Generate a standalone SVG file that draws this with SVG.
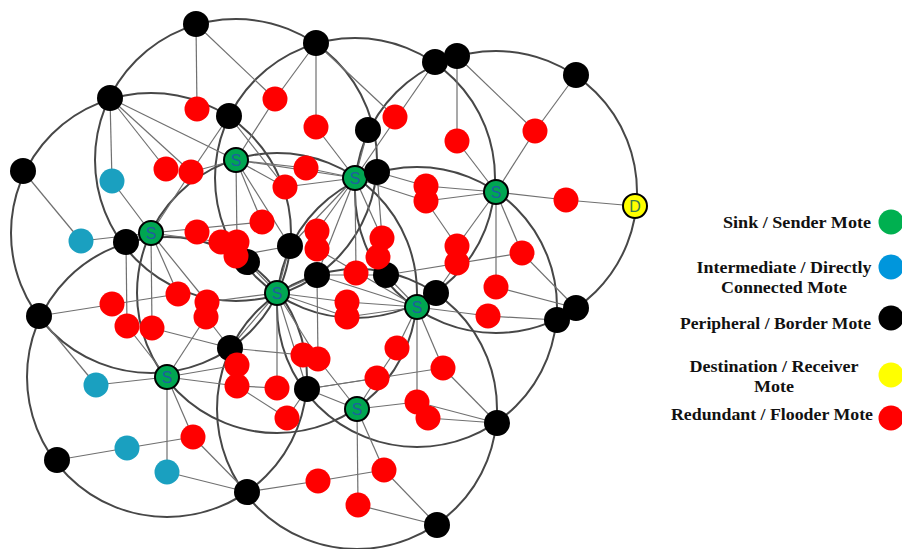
<svg xmlns="http://www.w3.org/2000/svg" width="902" height="549" viewBox="0 0 902 549">
<style>
.rng{fill:none;stroke:#474747;stroke-width:2}
.e{stroke:#707070;stroke-width:1.2;fill:none}
.r{fill:#ff0000}
.k{fill:#000}
.c{fill:#1aa0c0}
.s{fill:#00a651;stroke:#000;stroke-width:2}
.sl{font-family:"Liberation Sans",Arial,sans-serif;font-size:16px;fill:#1f5f9f;text-anchor:middle}
.lg{font-family:"Liberation Serif","Times New Roman",serif;font-weight:bold;font-size:17px;fill:#111}
</style>
<rect width="902" height="549" fill="#fff"/>
<g id="ranges">
<circle class="rng" cx="236" cy="160" r="141"/>
<circle class="rng" cx="151" cy="233" r="140"/>
<circle class="rng" cx="355" cy="178" r="140"/>
<circle class="rng" cx="496" cy="192" r="141"/>
<circle class="rng" cx="277" cy="293" r="140"/>
<circle class="rng" cx="417" cy="307" r="140"/>
<circle class="rng" cx="167" cy="377" r="140"/>
<circle class="rng" cx="357" cy="409" r="140"/>
</g>
<g id="connectors">
<line class="e" x1="196" y1="24" x2="197" y2="109"/>
<line class="e" x1="196" y1="24" x2="275" y2="99"/>
<line class="e" x1="316" y1="43" x2="316" y2="127"/>
<line class="e" x1="316" y1="43" x2="275" y2="99"/>
<line class="e" x1="316" y1="43" x2="395" y2="117"/>
<line class="e" x1="110" y1="98" x2="112" y2="181"/>
<line class="e" x1="110" y1="98" x2="166" y2="169"/>
<line class="e" x1="110" y1="98" x2="191" y2="172"/>
<line class="e" x1="110" y1="98" x2="236" y2="160"/>
<line class="e" x1="229" y1="116" x2="191" y2="172"/>
<line class="e" x1="229" y1="116" x2="285" y2="187"/>
<line class="e" x1="275" y1="99" x2="236" y2="160"/>
<line class="e" x1="23" y1="171" x2="81" y2="241"/>
<line class="e" x1="81" y1="241" x2="151" y2="233"/>
<line class="e" x1="112" y1="181" x2="151" y2="233"/>
<line class="e" x1="236" y1="160" x2="191" y2="172"/>
<line class="e" x1="236" y1="160" x2="306" y2="168"/>
<line class="e" x1="236" y1="160" x2="285" y2="187"/>
<line class="e" x1="236" y1="160" x2="262" y2="222"/>
<line class="e" x1="236" y1="160" x2="237" y2="242"/>
<line class="e" x1="236" y1="160" x2="355" y2="178"/>
<line class="e" x1="236" y1="160" x2="290" y2="246"/>
<line class="e" x1="151" y1="233" x2="191" y2="172"/>
<line class="e" x1="151" y1="233" x2="262" y2="222"/>
<line class="e" x1="151" y1="233" x2="221" y2="242"/>
<line class="e" x1="151" y1="233" x2="178" y2="294"/>
<line class="e" x1="151" y1="233" x2="207" y2="302"/>
<line class="e" x1="151" y1="233" x2="152" y2="328"/>
<line class="e" x1="126" y1="242" x2="127" y2="326"/>
<line class="e" x1="39" y1="316" x2="178" y2="294"/>
<line class="e" x1="39" y1="316" x2="96" y2="385"/>
<line class="e" x1="96" y1="385" x2="167" y2="377"/>
<line class="e" x1="57" y1="460" x2="127" y2="448"/>
<line class="e" x1="127" y1="448" x2="193" y2="437"/>
<line class="e" x1="167" y1="472" x2="247" y2="492"/>
<line class="e" x1="167" y1="377" x2="167" y2="472"/>
<line class="e" x1="167" y1="377" x2="193" y2="437"/>
<line class="e" x1="193" y1="437" x2="247" y2="492"/>
<line class="e" x1="247" y1="492" x2="318" y2="481"/>
<line class="e" x1="167" y1="377" x2="206" y2="317"/>
<line class="e" x1="167" y1="377" x2="237" y2="365"/>
<line class="e" x1="167" y1="377" x2="237" y2="386"/>
<line class="e" x1="127" y1="326" x2="167" y2="377"/>
<line class="e" x1="152" y1="328" x2="230" y2="348"/>
<line class="e" x1="207" y1="302" x2="277" y2="293"/>
<line class="e" x1="206" y1="317" x2="230" y2="348"/>
<line class="e" x1="277" y1="293" x2="230" y2="348"/>
<line class="e" x1="277" y1="293" x2="277" y2="388"/>
<line class="e" x1="277" y1="293" x2="307" y2="389"/>
<line class="e" x1="277" y1="293" x2="318" y2="359"/>
<line class="e" x1="277" y1="293" x2="347" y2="302"/>
<line class="e" x1="277" y1="293" x2="347" y2="317"/>
<line class="e" x1="277" y1="293" x2="247" y2="262"/>
<line class="e" x1="277" y1="293" x2="290" y2="246"/>
<line class="e" x1="277" y1="293" x2="317" y2="275"/>
<line class="e" x1="237" y1="386" x2="277" y2="388"/>
<line class="e" x1="237" y1="386" x2="287" y2="418"/>
<line class="e" x1="230" y1="348" x2="303" y2="355"/>
<line class="e" x1="317" y1="275" x2="318" y2="359"/>
<line class="e" x1="307" y1="389" x2="357" y2="409"/>
<line class="e" x1="307" y1="389" x2="377" y2="378"/>
<line class="e" x1="307" y1="389" x2="287" y2="418"/>
<line class="e" x1="307" y1="389" x2="443" y2="368"/>
<line class="e" x1="357" y1="409" x2="417" y2="402"/>
<line class="e" x1="357" y1="409" x2="358" y2="505"/>
<line class="e" x1="357" y1="409" x2="384" y2="470"/>
<line class="e" x1="384" y1="470" x2="318" y2="481"/>
<line class="e" x1="384" y1="470" x2="437" y2="525"/>
<line class="e" x1="358" y1="505" x2="437" y2="525"/>
<line class="e" x1="357" y1="409" x2="377" y2="378"/>
<line class="e" x1="357" y1="409" x2="318" y2="359"/>
<line class="e" x1="417" y1="307" x2="436" y2="293"/>
<line class="e" x1="417" y1="307" x2="488" y2="316"/>
<line class="e" x1="488" y1="316" x2="557" y2="320"/>
<line class="e" x1="417" y1="307" x2="417" y2="402"/>
<line class="e" x1="417" y1="307" x2="443" y2="368"/>
<line class="e" x1="417" y1="307" x2="397" y2="348"/>
<line class="e" x1="397" y1="348" x2="377" y2="378"/>
<line class="e" x1="443" y1="368" x2="497" y2="423"/>
<line class="e" x1="417" y1="402" x2="497" y2="423"/>
<line class="e" x1="428" y1="418" x2="497" y2="423"/>
<line class="e" x1="496" y1="287" x2="576" y2="308"/>
<line class="e" x1="522" y1="253" x2="576" y2="308"/>
<line class="e" x1="496" y1="192" x2="457" y2="141"/>
<line class="e" x1="496" y1="192" x2="535" y2="131"/>
<line class="e" x1="496" y1="192" x2="426" y2="186"/>
<line class="e" x1="496" y1="192" x2="426" y2="201"/>
<line class="e" x1="496" y1="192" x2="566" y2="200"/>
<line class="e" x1="566" y1="200" x2="635" y2="206"/>
<line class="e" x1="496" y1="192" x2="457" y2="246"/>
<line class="e" x1="496" y1="192" x2="522" y2="253"/>
<line class="e" x1="496" y1="192" x2="496" y2="287"/>
<line class="e" x1="377" y1="172" x2="426" y2="186"/>
<line class="e" x1="457" y1="56" x2="457" y2="141"/>
<line class="e" x1="457" y1="56" x2="535" y2="131"/>
<line class="e" x1="576" y1="75" x2="535" y2="131"/>
<line class="e" x1="435" y1="62" x2="355" y2="178"/>
<line class="e" x1="355" y1="178" x2="316" y2="127"/>
<line class="e" x1="355" y1="178" x2="306" y2="168"/>
<line class="e" x1="355" y1="178" x2="285" y2="187"/>
<line class="e" x1="355" y1="178" x2="426" y2="201"/>
<line class="e" x1="355" y1="178" x2="317" y2="231"/>
<line class="e" x1="355" y1="178" x2="382" y2="238"/>
<line class="e" x1="355" y1="178" x2="356" y2="273"/>
<line class="e" x1="355" y1="178" x2="290" y2="246"/>
<line class="e" x1="355" y1="178" x2="317" y2="275"/>
<line class="e" x1="368" y1="130" x2="355" y2="178"/>
<line class="e" x1="377" y1="172" x2="382" y2="238"/>
<line class="e" x1="426" y1="201" x2="457" y2="246"/>
<line class="e" x1="317" y1="275" x2="386" y2="275"/>
<line class="e" x1="317" y1="275" x2="417" y2="307"/>
<line class="e" x1="386" y1="275" x2="417" y2="307"/>
<line class="e" x1="386" y1="275" x2="522" y2="253"/>
<line class="e" x1="317" y1="249" x2="417" y2="307"/>
<line class="e" x1="347" y1="302" x2="417" y2="307"/>
<line class="e" x1="347" y1="317" x2="417" y2="307"/>
<line class="e" x1="436" y1="293" x2="457" y2="263"/>
<line class="e" x1="290" y1="246" x2="236" y2="256"/>
</g>
<g id="n-B1"><circle class="k" cx="196" cy="24" r="13"/></g>
<g id="n-B2"><circle class="k" cx="316" cy="43" r="13"/></g>
<g id="n-B3"><circle class="k" cx="110" cy="98" r="13"/></g>
<g id="n-B4"><circle class="k" cx="229" cy="116" r="13"/></g>
<g id="n-B5"><circle class="k" cx="435" cy="62" r="13"/></g>
<g id="n-B6"><circle class="k" cx="457" cy="56" r="13"/></g>
<g id="n-B7"><circle class="k" cx="576" cy="75" r="13"/></g>
<g id="n-B8"><circle class="k" cx="368" cy="130" r="13"/></g>
<g id="n-B10"><circle class="k" cx="23" cy="171" r="13"/></g>
<g id="n-B11"><circle class="k" cx="126" cy="242" r="13"/></g>
<g id="n-B12"><circle class="k" cx="290" cy="246" r="13"/></g>
<g id="n-B13"><circle class="k" cx="247" cy="262" r="13"/></g>
<g id="n-B14"><circle class="k" cx="317" cy="275" r="13"/></g>
<g id="n-B15"><circle class="k" cx="386" cy="275" r="13"/></g>
<g id="n-B17"><circle class="k" cx="39" cy="316" r="13"/></g>
<g id="n-B18"><circle class="k" cx="230" cy="348" r="13"/></g>
<g id="n-B19"><circle class="k" cx="307" cy="389" r="13"/></g>
<g id="n-B20"><circle class="k" cx="57" cy="460" r="13"/></g>
<g id="n-B21"><circle class="k" cx="247" cy="492" r="13"/></g>
<g id="n-B22"><circle class="k" cx="576" cy="308" r="13"/></g>
<g id="n-B23"><circle class="k" cx="557" cy="320" r="13"/></g>
<g id="n-B24"><circle class="k" cx="497" cy="423" r="13"/></g>
<g id="n-B25"><circle class="k" cx="437" cy="525" r="13"/></g>
<g id="n-R1"><circle class="r" cx="197" cy="109" r="12.5"/></g>
<g id="n-R2"><circle class="r" cx="275" cy="99" r="12.5"/></g>
<g id="n-R3"><circle class="r" cx="316" cy="127" r="12.5"/></g>
<g id="n-R4"><circle class="r" cx="395" cy="117" r="12.5"/></g>
<g id="n-R5"><circle class="r" cx="457" cy="141" r="12.5"/></g>
<g id="n-R6"><circle class="r" cx="535" cy="131" r="12.5"/></g>
<g id="n-R7"><circle class="r" cx="166" cy="169" r="12.5"/></g>
<g id="n-R8"><circle class="r" cx="191" cy="172" r="12.5"/></g>
<g id="n-R9"><circle class="r" cx="306" cy="168" r="12.5"/></g>
<g id="n-R10"><circle class="r" cx="285" cy="187" r="12.5"/></g>
<g id="n-R11"><circle class="r" cx="426" cy="186" r="12.5"/></g>
<g id="n-R12"><circle class="r" cx="426" cy="201" r="12.5"/></g>
<g id="n-R13"><circle class="r" cx="566" cy="200" r="12.5"/></g>
<g id="n-R14"><circle class="r" cx="262" cy="222" r="12.5"/></g>
<g id="n-R15"><circle class="r" cx="197" cy="232" r="12.5"/></g>
<g id="n-R16"><circle class="r" cx="221" cy="242" r="12.5"/></g>
<g id="n-R17"><circle class="r" cx="237" cy="242" r="12.5"/></g>
<g id="n-R18"><circle class="r" cx="236" cy="256" r="12.5"/></g>
<g id="n-R19"><circle class="r" cx="317" cy="231" r="12.5"/></g>
<g id="n-R20"><circle class="r" cx="317" cy="249" r="12.5"/></g>
<g id="n-R21"><circle class="r" cx="382" cy="238" r="12.5"/></g>
<g id="n-R22"><circle class="r" cx="378" cy="257" r="12.5"/></g>
<g id="n-R23"><circle class="r" cx="457" cy="246" r="12.5"/></g>
<g id="n-R24"><circle class="r" cx="457" cy="263" r="12.5"/></g>
<g id="n-R25"><circle class="r" cx="522" cy="253" r="12.5"/></g>
<g id="n-R26"><circle class="r" cx="356" cy="273" r="12.5"/></g>
<g id="n-R27"><circle class="r" cx="496" cy="287" r="12.5"/></g>
<g id="n-R28"><circle class="r" cx="488" cy="316" r="12.5"/></g>
<g id="n-R29"><circle class="r" cx="178" cy="294" r="12.5"/></g>
<g id="n-R30"><circle class="r" cx="207" cy="302" r="12.5"/></g>
<g id="n-R31"><circle class="r" cx="206" cy="317" r="12.5"/></g>
<g id="n-R32"><circle class="r" cx="112" cy="304" r="12.5"/></g>
<g id="n-R33"><circle class="r" cx="127" cy="326" r="12.5"/></g>
<g id="n-R34"><circle class="r" cx="152" cy="328" r="12.5"/></g>
<g id="n-R35"><circle class="r" cx="347" cy="302" r="12.5"/></g>
<g id="n-R36"><circle class="r" cx="347" cy="317" r="12.5"/></g>
<g id="n-R37"><circle class="r" cx="397" cy="348" r="12.5"/></g>
<g id="n-R38"><circle class="r" cx="237" cy="365" r="12.5"/></g>
<g id="n-R39"><circle class="r" cx="237" cy="386" r="12.5"/></g>
<g id="n-R40"><circle class="r" cx="277" cy="388" r="12.5"/></g>
<g id="n-R41"><circle class="r" cx="303" cy="355" r="12.5"/></g>
<g id="n-R42"><circle class="r" cx="318" cy="359" r="12.5"/></g>
<g id="n-R43"><circle class="r" cx="377" cy="378" r="12.5"/></g>
<g id="n-R44"><circle class="r" cx="443" cy="368" r="12.5"/></g>
<g id="n-R45"><circle class="r" cx="287" cy="418" r="12.5"/></g>
<g id="n-R46"><circle class="r" cx="193" cy="437" r="12.5"/></g>
<g id="n-R47"><circle class="r" cx="417" cy="402" r="12.5"/></g>
<g id="n-R48"><circle class="r" cx="428" cy="418" r="12.5"/></g>
<g id="n-R49"><circle class="r" cx="318" cy="481" r="12.5"/></g>
<g id="n-R50"><circle class="r" cx="384" cy="470" r="12.5"/></g>
<g id="n-R51"><circle class="r" cx="358" cy="505" r="12.5"/></g>
<g id="n-C1"><circle class="c" cx="112" cy="181" r="12.5"/></g>
<g id="n-C2"><circle class="c" cx="81" cy="241" r="12.5"/></g>
<g id="n-C3"><circle class="c" cx="96" cy="385" r="12.5"/></g>
<g id="n-C4"><circle class="c" cx="127" cy="448" r="12.5"/></g>
<g id="n-C5"><circle class="c" cx="167" cy="472" r="12.5"/></g>
<g id="n-S1"><circle class="s" cx="236" cy="160" r="12"/><text class="sl" x="236" y="166">S</text></g>
<g id="n-S2"><circle class="s" cx="151" cy="233" r="12"/><text class="sl" x="151" y="239">S</text></g>
<g id="n-S3"><circle class="s" cx="355" cy="178" r="12"/><text class="sl" x="355" y="184">S</text></g>
<g id="n-S4"><circle class="s" cx="496" cy="192" r="12"/><text class="sl" x="496" y="198">S</text></g>
<g id="n-S5"><circle class="s" cx="277" cy="293" r="12"/><text class="sl" x="277" y="299">S</text></g>
<g id="n-S6"><circle class="s" cx="417" cy="307" r="12"/><text class="sl" x="417" y="313">S</text></g>
<g id="n-S7"><circle class="s" cx="167" cy="377" r="12"/><text class="sl" x="167" y="383">S</text></g>
<g id="n-S8"><circle class="s" cx="357" cy="409" r="12"/><text class="sl" x="357" y="415">S</text></g>
<g id="n-B9"><circle class="k" cx="377" cy="172" r="13"/></g>
<g id="n-B16"><circle class="k" cx="436" cy="293" r="13"/></g>
<g id="n-D"><circle cx="635" cy="206" r="12" fill="#ffff00" stroke="#000" stroke-width="2"/><text class="sl" x="635" y="212" style="fill:#3a7a4a">D</text></g>
<g id="legend">
<text class="lg" x="871" y="228" text-anchor="end" textLength="148" lengthAdjust="spacingAndGlyphs">Sink / Sender Mote</text>
<circle cx="891" cy="222" r="12.5" fill="#00b050"/>
<text class="lg" x="784" y="273" text-anchor="middle" textLength="175" lengthAdjust="spacingAndGlyphs">Intermediate / Directly</text>
<text class="lg" x="784" y="293" text-anchor="middle" textLength="126" lengthAdjust="spacingAndGlyphs">Connected Mote</text>
<circle cx="891" cy="267" r="12.5" fill="#0096dc"/>
<text class="lg" x="871" y="329" text-anchor="end" textLength="191" lengthAdjust="spacingAndGlyphs">Peripheral / Border Mote</text>
<circle cx="891" cy="318" r="12.5" fill="#000"/>
<text class="lg" x="774" y="372" text-anchor="middle" textLength="169" lengthAdjust="spacingAndGlyphs">Destination / Receiver</text>
<text class="lg" x="774" y="392" text-anchor="middle" textLength="40" lengthAdjust="spacingAndGlyphs">Mote</text>
<circle cx="891" cy="375" r="12.5" fill="#ffff00"/>
<text class="lg" x="873" y="420" text-anchor="end" textLength="202" lengthAdjust="spacingAndGlyphs">Redundant / Flooder Mote</text>
<circle cx="891" cy="418" r="12.5" fill="#ff0000"/>
</g>
</svg>
